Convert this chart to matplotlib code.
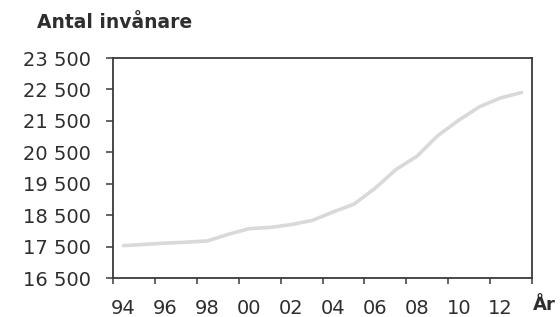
import matplotlib
matplotlib.use("Agg")
import matplotlib.pyplot as plt
import numpy as np

# Population per year
YEARS = list(range(1994, 2014))
POPULATION = [
    17530, 17570, 17610, 17640, 17680, 17890, 18070, 18110, 18200, 18330,
    18600, 18850, 19350, 19950, 20370, 21030, 21520, 21950, 22230, 22400,
]
Y_TICKS = [16500, 17500, 18500, 19500, 20500, 21500, 22500, 23500]
X_LABEL_YEARS = list(range(1994, 2013, 2))

TEXT_COLOR = "#2e2e2e"
SPINE_COLOR = "#3a3a3a"
LINE_COLOR = "#d9d9d9"


def fmt_thousands(v):
    return f"{v:,}".replace(",", " ")


def main():
    plt.rcParams["font.family"] = ["DejaVu Sans"]
    fig = plt.figure(figsize=(5.6, 3.17), dpi=100)
    ax = fig.add_axes([0.202, 0.123, 0.748, 0.694])

    ax.plot(YEARS, POPULATION, color=LINE_COLOR, linewidth=2.6, solid_capstyle="round")

    ax.set_xlim(YEARS[0] - 0.5, YEARS[-1] + 0.5)
    ax.set_ylim(Y_TICKS[0], Y_TICKS[-1])

    # category axis: tick marks on boundaries, labels centred on even years
    ax.set_xticks(np.arange(YEARS[0] - 0.5, YEARS[-1] + 1, 2))
    ax.set_xticklabels([])
    ax.set_xticks(X_LABEL_YEARS, minor=True)
    ax.set_xticklabels([f"{y % 100:02d}" for y in X_LABEL_YEARS], minor=True)
    ax.tick_params(axis="x", which="major", direction="out", length=4, width=1.1,
                   color=SPINE_COLOR)
    ax.tick_params(axis="x", which="minor", length=0, pad=15, labelsize=14,
                   labelcolor=TEXT_COLOR)

    ax.set_yticks(Y_TICKS)
    ax.set_yticklabels([fmt_thousands(v) for v in Y_TICKS])
    ax.tick_params(axis="y", direction="out", length=5, width=1.1, pad=11,
                   labelsize=14, color=SPINE_COLOR, labelcolor=TEXT_COLOR)

    for spine in ax.spines.values():
        spine.set_color(SPINE_COLOR)
        spine.set_linewidth(1.3)

    fig.text(0.066, 0.9, "Antal invånare", fontsize=13.5, fontweight="bold",
             color=TEXT_COLOR, ha="left", va="bottom")
    fig.text(0.952, 0.01, "År", fontsize=13, fontweight="bold",
             color=TEXT_COLOR, ha="left", va="bottom")

    fig.savefig("out.png", dpi=100)
    plt.close(fig)


if __name__ == "__main__":
    main()
